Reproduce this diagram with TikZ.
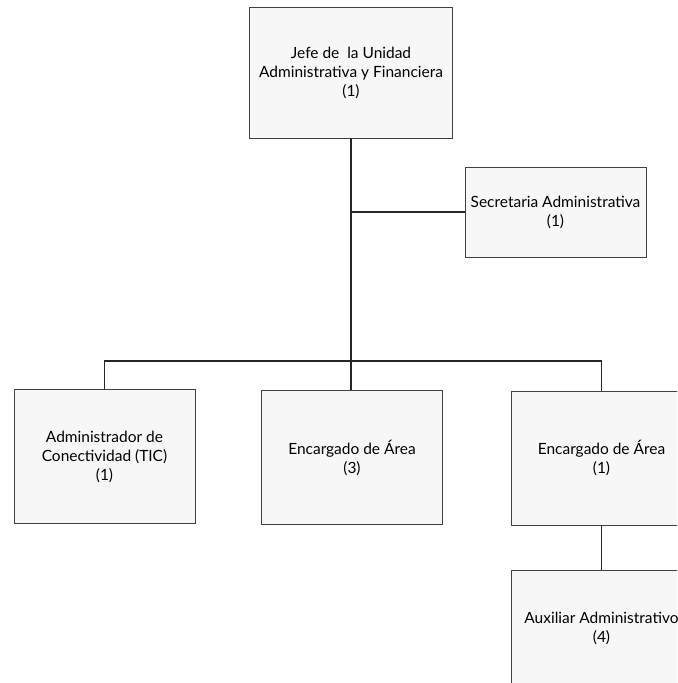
\documentclass[tikz,border=0pt]{standalone}
\usepackage{fontspec}
\setmainfont{Lato}
\usetikzlibrary{positioning}
\begin{document}
\begin{tikzpicture}[
    x=0.025cm, y=-0.025cm,
    unit/.style={draw=black!75, line width=0.6pt, fill=gray!6, align=center,
      font=\fontsize{11}{13.5}\selectfont, inner sep=2pt,
      minimum width=4.525cm, minimum height=3.35cm},
    link/.style={line width=1.4pt, draw=black!85},
  ]
    \useasboundingbox (0,0) rectangle (677,683);
    \clip (0,0) rectangle (677,683);
    % Head of the unit
    \node[unit, minimum width=5.075cm, minimum height=3.275cm] (jefe) at (351,72.5)
      {Jefe de \ la Unidad\\Administrativa y Financiera\\(1)};
    \node[unit, minimum height=2.25cm] (sec) at (555.5,212)
      {Secretaria Administrativa\\(1)};
    % Second level
    \node[unit] (tic) at (104.5,456.5) {Administrador de\\Conectividad (TIC)\\(1)};
    \node[unit] (area3) at (352,457.5) {Encargado de Área\\(3)};
    \node[unit] (area1) at (601.5,458) {Encargado de Área\\(1)};
    % Third level
    \node[unit, minimum height=2.9cm] (aux) at (601.5,628) {Auxiliar Administrativo\\(4)};
    % Connectors
    \coordinate (bus) at (351,361);
    \draw[link] (jefe.south) -- (jefe.south |- area3.north);
    \draw[link] (jefe.south |- sec.west) -- (sec.west);
    \draw[link] (tic.north) |- (bus) -| (area1.north);
    \draw[link] (area1.south) -- (aux.north);
\end{tikzpicture}
\end{document}
